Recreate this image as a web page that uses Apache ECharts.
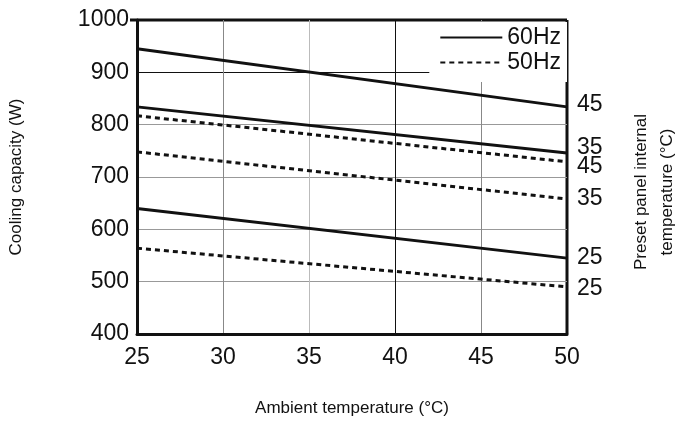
<!DOCTYPE html>
<html><head><meta charset="utf-8">
<script src="https://cdn.jsdelivr.net/npm/echarts@6/dist/echarts.min.js"></script>
<style>html,body{margin:0;background:#fff}#c{width:685px;height:428px}</style>
</head><body><div id="c"></div>
<script>
// ambient temperature endpoints
const ambient = [25, 50];
// cooling capacity (W) per preset panel temperature
const hz60_45 = [945, 834];
const hz60_35 = [834, 746];
const hz60_25 = [640, 545];
const hz50_45 = [817, 729];
const hz50_35 = [748, 658];
const hz50_25 = [564, 490];
const panelTemps = ['45', '35', '25', '45', '35', '25'];

const font = 'Liberation Sans';
const mk = (name, vals, label, dashed, offY) => ({
  name, type: 'line', symbol: 'none', silent: true,
  data: ambient.map((x, i) => [x, vals[i]]),
  itemStyle: { color: '#111' },
  lineStyle: { color: '#111', width: 3, type: dashed ? [5, 4] : 'solid' },
  endLabel: { show: true, formatter: label, fontFamily: font, fontSize: 23, color: '#111', distance: 10, offset: [0, offY] }
});

const chart = echarts.init(document.getElementById('c'));
chart.setOption({
  animation: false,
  grid: { left: 130, right: 118, top: 20, bottom: 94 },
  legend: {
    right: 118, top: 22, orient: 'vertical', itemWidth: 62, itemGap: 2,
    backgroundColor: '#fff', padding: [4, 6, 8, 10],
    itemStyle: { color: 'rgba(0,0,0,0)', borderWidth: 0 },
    textStyle: { fontFamily: font, fontSize: 23, color: '#111' },
    data: ['60Hz', '50Hz']
  },
  xAxis: {
    type: 'value', min: 25, max: 50, interval: 5,
    name: 'Ambient temperature (°C)', nameLocation: 'middle', nameGap: 66,
    nameTextStyle: { fontFamily: font, fontSize: 17, color: '#111' },
    axisLine: { lineStyle: { color: '#111', width: 3 } },
    axisTick: { show: false },
    axisLabel: { fontFamily: font, fontSize: 23, color: '#111', margin: 12 },
    splitLine: { lineStyle: { color: ['#111', '#888', '#bbb', '#111', '#888', '#111'], width: 1 } }
  },
  yAxis: {
    type: 'value', min: 400, max: 1000, interval: 100,
    name: 'Cooling capacity (W)', nameLocation: 'middle', nameGap: 112,
    nameTextStyle: { fontFamily: font, fontSize: 17, color: '#111' },
    axisLine: { show: true, lineStyle: { color: '#111', width: 3 } },
    axisTick: { show: false },
    axisLabel: { fontFamily: font, fontSize: 23, color: '#111', margin: 8, formatter: v => String(v) },
    splitLine: { lineStyle: { color: ['#111', '#999', '#999', '#999', '#999', '#111', '#111'], width: 1 } }
  },
  graphic: [
    { type: 'rect', shape: { x: 567, y: 20, width: 0, height: 314 }, style: { stroke: '#111', lineWidth: 3 } },
    { type: 'rect', shape: { x: 130, y: 20, width: 437, height: 0 }, style: { stroke: '#111', lineWidth: 3 } },
    { type: 'text', x: 654, y: 192, rotation: Math.PI / 2, style: { text: 'Preset panel internal\ntemperature (°C)', fontFamily: font, fontSize: 17, fill: '#111', align: 'center', verticalAlign: 'middle', lineHeight: 26 } }
  ],
  series: [
    mk('60Hz', hz60_45, panelTemps[0], false, -2),
    mk('60Hz', hz60_35, panelTemps[1], false, -5),
    mk('60Hz', hz60_25, panelTemps[2], false, 0),
    mk('50Hz', hz50_45, panelTemps[3], true, 5),
    mk('50Hz', hz50_35, panelTemps[4], true, 0),
    mk('50Hz', hz50_25, panelTemps[5], true, 2)
  ]
});
</script></body></html>
